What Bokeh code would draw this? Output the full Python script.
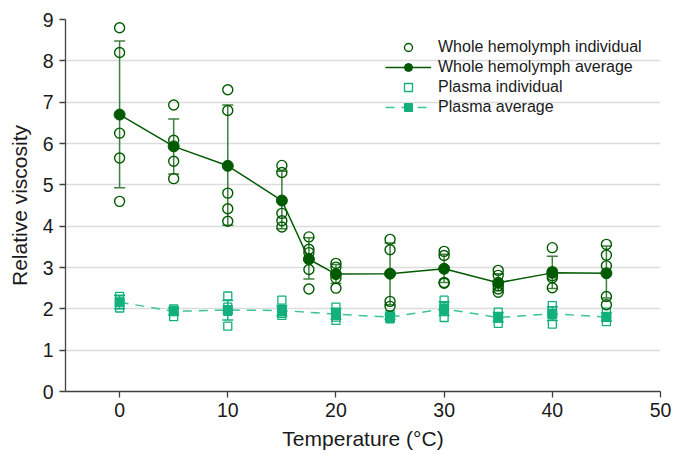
from bokeh.plotting import figure
from bokeh.models import (ColumnDataSource, Whisker, TeeHead, Legend, LegendItem,
                          FixedTicker, Range1d)
from bokeh.embed import file_html
from bokeh.resources import INLINE

# ---- data ----
# Whole hemolymph individual measurements
wh_ind_temp = [0, 0, 0, 0, 0,
               5, 5, 5, 5,
               10, 10, 10, 10, 10,
               15, 15, 15, 15, 15,
               17.5, 17.5, 17.5, 17.5, 17.5,
               20, 20, 20, 20,
               25, 25, 25, 25,
               30, 30, 30, 30,
               35, 35, 35, 35, 35,
               40, 40, 40, 40, 40,
               45, 45, 45, 45, 45]
wh_ind_val = [8.80, 8.20, 6.25, 5.65, 4.60,
              6.93, 6.08, 5.57, 5.15,
              7.30, 6.80, 4.80, 4.42, 4.12,
              5.47, 5.30, 4.31, 4.13, 3.98,
              3.74, 3.44, 3.36, 2.95, 2.48,
              3.10, 3.01, 2.74, 2.50,
              3.68, 3.43, 2.18, 2.06,
              3.39, 3.29, 2.64, 2.62,
              2.93, 2.81, 2.56, 2.48, 2.40,
              3.48, 2.90, 2.80, 2.75, 2.51,
              3.56, 3.30, 3.04, 2.30, 2.10]

# Whole hemolymph averages and error-bar limits
wh_temp = [0, 5, 10, 15, 17.5, 20, 25, 30, 35, 40, 45]
wh_avg = [6.70, 5.93, 5.46, 4.62, 3.20, 2.84, 2.85, 2.97, 2.63, 2.87, 2.86]
wh_low = [4.93, 5.26, 4.02, 3.94, 2.72, 2.61, 2.10, 2.64, 2.44, 2.49, 2.26]
wh_high = [8.48, 6.59, 6.93, 5.33, 3.72, 3.07, 3.59, 3.32, 2.85, 3.27, 3.52]

# Plasma individual measurements
pl_ind_temp = [0, 0, 0, 0,
               5, 5, 5,
               10, 10, 10, 10,
               15, 15, 15, 15,
               20, 20, 20, 20,
               25, 25, 25, 25,
               30, 30, 30, 30,
               35, 35, 35,
               40, 40, 40, 40,
               45, 45, 45]
pl_ind_val = [2.30, 2.22, 2.10, 2.02,
              2.00, 1.97, 1.81,
              2.31, 2.04, 1.94, 1.58,
              2.21, 1.96, 1.89, 1.84,
              2.04, 1.92, 1.80, 1.72,
              1.86, 1.82, 1.78, 1.76,
              2.21, 2.06, 1.95, 1.79,
              1.92, 1.81, 1.65,
              2.08, 1.95, 1.86, 1.63,
              1.92, 1.80, 1.69]

# Plasma averages and error-bar limits
pl_temp = [0, 5, 10, 15, 20, 25, 30, 35, 40, 45]
pl_avg = [2.16, 1.94, 1.97, 1.96, 1.87, 1.80, 2.00, 1.79, 1.88, 1.80]
pl_low = [2.00, 1.85, 1.73, 1.83, 1.75, 1.75, 1.84, 1.68, 1.72, 1.70]
pl_high = [2.33, 2.02, 2.20, 2.08, 2.00, 1.86, 2.17, 1.91, 2.05, 1.91]

x_ticks = [0, 10, 20, 30, 40, 50]
y_ticks = [0, 1, 2, 3, 4, 5, 6, 7, 8, 9]

# ---- styles ----
DARK = "#005a00"
DARK_ERR = "#3f7f3f"
TEAL = "#12b07c"
TEAL_LINE = "#3cc593"
FONT = "Liberation Sans"

p = figure(width=675, height=454, output_backend="svg", toolbar_location=None,
           x_range=Range1d(-5, 50), y_range=Range1d(0, 9),
           min_border_left=65, min_border_right=15, min_border_top=19,
           min_border_bottom=63)
p.outline_line_color = None
p.background_fill_color = "white"
p.border_fill_color = "white"

p.xgrid.grid_line_color = None
p.ygrid.grid_line_color = "#dcdcdc"
p.ygrid.grid_line_width = 1.5

for ax in (p.xaxis, p.yaxis):
    ax.axis_line_color = "#404040"
    ax.axis_line_width = 1.3
    ax.major_tick_line_color = "#404040"
    ax.major_tick_line_width = 1.3
    ax.major_tick_out = 6
    ax.major_tick_in = 0
    ax.minor_tick_line_color = None
    ax.major_label_text_font = FONT
    ax.major_label_text_font_size = "19.5px"
    ax.major_label_text_color = "#1a1a1a"
    ax.axis_label_text_font = FONT
    ax.axis_label_text_font_size = "21px"
    ax.axis_label_text_font_style = "normal"
    ax.axis_label_text_color = "#1a1a1a"

p.xaxis.ticker = FixedTicker(ticks=x_ticks)
p.yaxis.ticker = FixedTicker(ticks=y_ticks)
p.xaxis.axis_label = "Temperature (°C)"
p.yaxis.axis_label = "Relative viscosity"
p.xaxis.major_label_standoff = 5
p.yaxis.major_label_standoff = 6
p.xaxis.axis_label_standoff = 7
p.yaxis.axis_label_standoff = 9

wh_src = ColumnDataSource(dict(x=wh_temp, y=wh_avg, lo=wh_low, hi=wh_high))
pl_src = ColumnDataSource(dict(x=pl_temp, y=pl_avg, lo=pl_low, hi=pl_high))
wh_ind = ColumnDataSource(dict(x=wh_ind_temp, y=wh_ind_val))
pl_ind = ColumnDataSource(dict(x=pl_ind_temp, y=pl_ind_val))

# error bars
for src, col in ((pl_src, TEAL), (wh_src, DARK_ERR)):
    w = Whisker(source=src, base="x", lower="lo", upper="hi", dimension="height",
                line_color=col, line_width=1.5,
                upper_head=TeeHead(size=11, line_color=col, line_width=1.5),
                lower_head=TeeHead(size=11, line_color=col, line_width=1.5))
    p.add_layout(w)

# plasma
pl_line = p.line("x", "y", source=pl_src, line_color=TEAL_LINE, line_width=1.5,
                 line_dash="9 7")
pl_ind_r = p.scatter("x", "y", source=pl_ind, marker="square", size=8,
                     fill_color=None, line_color=TEAL, line_width=1.3)
pl_avg_r = p.scatter("x", "y", source=pl_src, marker="square", size=9,
                     fill_color=TEAL, line_color=TEAL)

# whole hemolymph
wh_line = p.line("x", "y", source=wh_src, line_color=DARK, line_width=1.5)
wh_ind_r = p.scatter("x", "y", source=wh_ind, marker="circle", size=10,
                     fill_color=None, line_color=DARK, line_width=1.4)
wh_avg_r = p.scatter("x", "y", source=wh_src, marker="circle", size=11,
                     fill_color=DARK, line_color=DARK)

legend = Legend(items=[
    LegendItem(label="Whole hemolymph individual", renderers=[wh_ind_r]),
    LegendItem(label="Whole hemolymph average", renderers=[wh_line, wh_avg_r]),
    LegendItem(label="Plasma individual", renderers=[pl_ind_r]),
    LegendItem(label="Plasma average", renderers=[pl_line, pl_avg_r]),
], location=(320, 274))
legend.background_fill_alpha = 0
legend.border_line_color = None
legend.padding = 0
legend.margin = 0
legend.spacing = 0
legend.label_height = 20
legend.glyph_height = 20
legend.glyph_width = 46
legend.label_standoff = 7
legend.label_text_font = FONT
legend.label_text_font_size = "16px"
legend.label_text_color = "#1a1a1a"
p.add_layout(legend)

open("out.html", "w").write(file_html(p, INLINE))
